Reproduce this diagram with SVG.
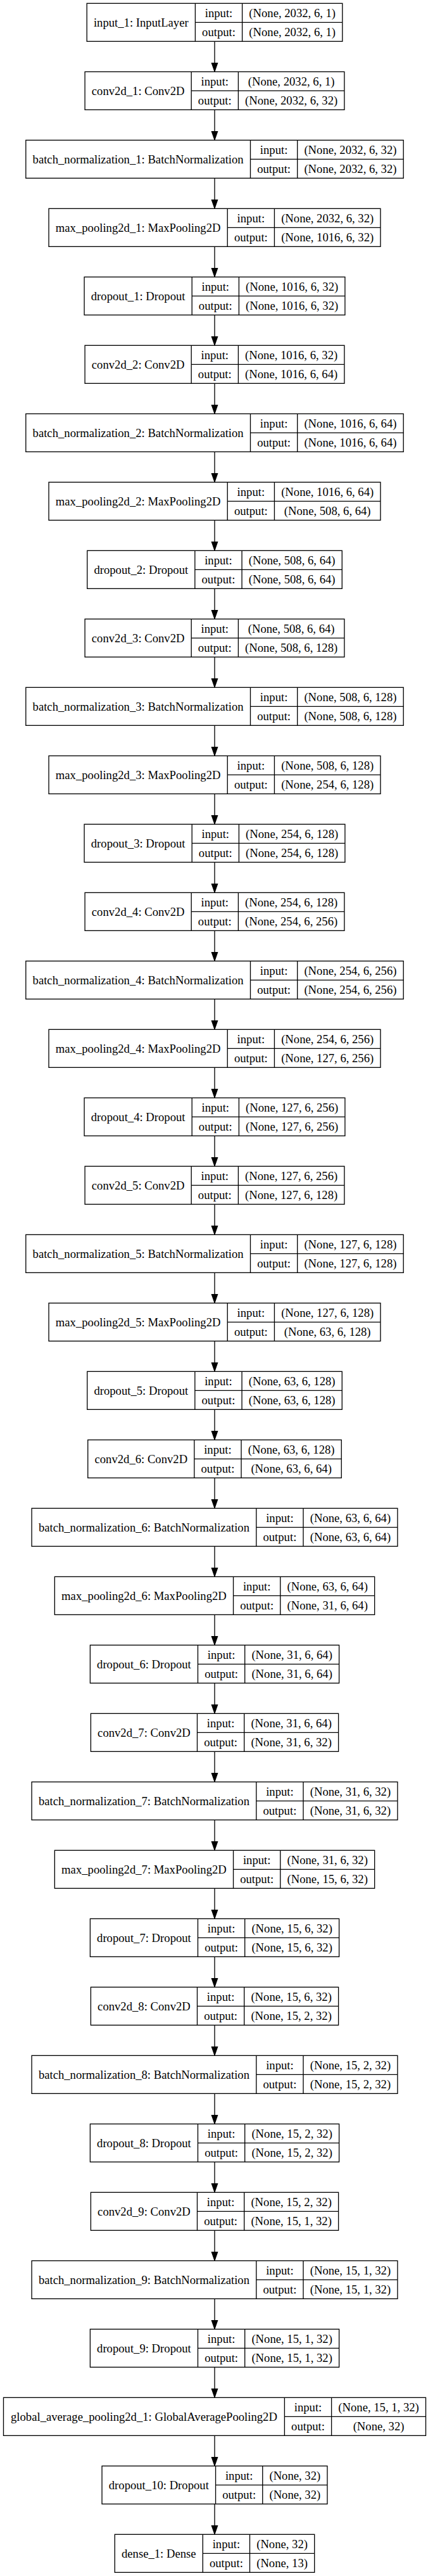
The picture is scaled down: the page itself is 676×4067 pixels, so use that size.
<svg xmlns="http://www.w3.org/2000/svg" width="676" height="4067" viewBox="0 0 676 4067">
<style>
.n rect{fill:#fff;stroke:#000;stroke-width:1.33}
.n path{fill:none;stroke:#000;stroke-width:1.33}
text{font-family:"Liberation Serif","Times New Roman",serif;font-size:18.67px;fill:#000;text-anchor:middle}
.e line{stroke:#000;stroke-width:1.33;marker-end:url(#ah)}
</style>
<defs>
<marker id="ah" markerUnits="userSpaceOnUse" markerWidth="16" markerHeight="12" viewBox="0 0 16 12" refX="14" refY="6" orient="auto">
<path d="M0.7,1.33 L14,6 L0.7,10.67 Z" fill="#000" stroke="#000" stroke-width="1.33"/>
</marker>
</defs>
<rect width="676" height="4067" fill="#fff"/>
<g id="edges" class="e">
<line x1="339" y1="65.33" x2="339" y2="112.67"/>
<line x1="339" y1="173.33" x2="339" y2="220.67"/>
<line x1="339" y1="281.33" x2="339" y2="328.67"/>
<line x1="339" y1="389.33" x2="339" y2="436.67"/>
<line x1="339" y1="497.33" x2="339" y2="544.67"/>
<line x1="339" y1="605.33" x2="339" y2="652.67"/>
<line x1="339" y1="713.33" x2="339" y2="760.67"/>
<line x1="339" y1="821.33" x2="339" y2="868.67"/>
<line x1="339" y1="929.33" x2="339" y2="976.67"/>
<line x1="339" y1="1037.33" x2="339" y2="1084.67"/>
<line x1="339" y1="1145.33" x2="339" y2="1192.67"/>
<line x1="339" y1="1253.33" x2="339" y2="1300.67"/>
<line x1="339" y1="1361.33" x2="339" y2="1408.67"/>
<line x1="339" y1="1469.33" x2="339" y2="1516.67"/>
<line x1="339" y1="1577.33" x2="339" y2="1624.67"/>
<line x1="339" y1="1685.33" x2="339" y2="1732.67"/>
<line x1="339" y1="1793.33" x2="339" y2="1840.67"/>
<line x1="339" y1="1901.33" x2="339" y2="1948.67"/>
<line x1="339" y1="2009.33" x2="339" y2="2056.67"/>
<line x1="339" y1="2117.33" x2="339" y2="2164.67"/>
<line x1="339" y1="2225.33" x2="339" y2="2272.67"/>
<line x1="339" y1="2333.33" x2="339" y2="2380.67"/>
<line x1="339" y1="2441.33" x2="339" y2="2488.67"/>
<line x1="339" y1="2549.33" x2="339" y2="2596.67"/>
<line x1="339" y1="2657.33" x2="339" y2="2704.67"/>
<line x1="339" y1="2765.33" x2="339" y2="2812.67"/>
<line x1="339" y1="2873.33" x2="339" y2="2920.67"/>
<line x1="339" y1="2981.33" x2="339" y2="3028.67"/>
<line x1="339" y1="3089.33" x2="339" y2="3136.67"/>
<line x1="339" y1="3197.33" x2="339" y2="3244.67"/>
<line x1="339" y1="3305.33" x2="339" y2="3352.67"/>
<line x1="339" y1="3413.33" x2="339" y2="3460.67"/>
<line x1="339" y1="3521.33" x2="339" y2="3568.67"/>
<line x1="339" y1="3629.33" x2="339" y2="3676.67"/>
<line x1="339" y1="3737.33" x2="339" y2="3784.67"/>
<line x1="339" y1="3845.33" x2="339" y2="3892.67"/>
<line x1="339" y1="3953.33" x2="339" y2="4000.67"/>
</g>

<g id="input_1" class="n" transform="translate(0,5.33)">
<rect x="137.2" y="0" width="403.6" height="60"/><path d="M308.4 0V60M382.6 0V60M308.4 30H540.8"/>
<text x="222.8" y="36.5">input_1: InputLayer</text><text x="345.5" y="21.5">input:</text><text x="345.5" y="51.5">output:</text>
<text x="461.7" y="21.5">(None, 2032, 6, 1)</text><text x="461.7" y="51.5">(None, 2032, 6, 1)</text>
</g>
<g id="conv2d_1" class="n" transform="translate(0,113.33)">
<rect x="134.1" y="0" width="409.8" height="60"/><path d="M302.2 0V60M376.4 0V60M302.2 30H543.9"/>
<text x="218.15" y="36.5">conv2d_1: Conv2D</text><text x="339.3" y="21.5">input:</text><text x="339.3" y="51.5">output:</text>
<text x="460.15" y="21.5">(None, 2032, 6, 1)</text><text x="460.15" y="51.5">(None, 2032, 6, 32)</text>
</g>
<g id="batch_normalization_1" class="n" transform="translate(0,221.33)">
<rect x="40.8" y="0" width="596.4" height="60"/><path d="M395.5 0V60M469.7 0V60M395.5 30H637.2"/>
<text x="218.15" y="36.5">batch_normalization_1: BatchNormalization</text><text x="432.6" y="21.5">input:</text><text x="432.6" y="51.5">output:</text>
<text x="553.45" y="21.5">(None, 2032, 6, 32)</text><text x="553.45" y="51.5">(None, 2032, 6, 32)</text>
</g>
<g id="max_pooling2d_1" class="n" transform="translate(0,329.33)">
<rect x="77.05" y="0" width="523.9" height="60"/><path d="M359.25 0V60M433.45 0V60M359.25 30H600.95"/>
<text x="218.15" y="36.5">max_pooling2d_1: MaxPooling2D</text><text x="396.35" y="21.5">input:</text><text x="396.35" y="51.5">output:</text>
<text x="517.2" y="21.5">(None, 2032, 6, 32)</text><text x="517.2" y="51.5">(None, 1016, 6, 32)</text>
</g>
<g id="dropout_1" class="n" transform="translate(0,437.33)">
<rect x="133.1" y="0" width="411.8" height="60"/><path d="M303.2 0V60M377.4 0V60M303.2 30H544.9"/>
<text x="218.15" y="36.5">dropout_1: Dropout</text><text x="340.3" y="21.5">input:</text><text x="340.3" y="51.5">output:</text>
<text x="461.15" y="21.5">(None, 1016, 6, 32)</text><text x="461.15" y="51.5">(None, 1016, 6, 32)</text>
</g>
<g id="conv2d_2" class="n" transform="translate(0,545.33)">
<rect x="134.1" y="0" width="409.8" height="60"/><path d="M302.2 0V60M376.4 0V60M302.2 30H543.9"/>
<text x="218.15" y="36.5">conv2d_2: Conv2D</text><text x="339.3" y="21.5">input:</text><text x="339.3" y="51.5">output:</text>
<text x="460.15" y="21.5">(None, 1016, 6, 32)</text><text x="460.15" y="51.5">(None, 1016, 6, 64)</text>
</g>
<g id="batch_normalization_2" class="n" transform="translate(0,653.33)">
<rect x="40.8" y="0" width="596.4" height="60"/><path d="M395.5 0V60M469.7 0V60M395.5 30H637.2"/>
<text x="218.15" y="36.5">batch_normalization_2: BatchNormalization</text><text x="432.6" y="21.5">input:</text><text x="432.6" y="51.5">output:</text>
<text x="553.45" y="21.5">(None, 1016, 6, 64)</text><text x="553.45" y="51.5">(None, 1016, 6, 64)</text>
</g>
<g id="max_pooling2d_2" class="n" transform="translate(0,761.33)">
<rect x="77.05" y="0" width="523.9" height="60"/><path d="M359.25 0V60M433.45 0V60M359.25 30H600.95"/>
<text x="218.15" y="36.5">max_pooling2d_2: MaxPooling2D</text><text x="396.35" y="21.5">input:</text><text x="396.35" y="51.5">output:</text>
<text x="517.2" y="21.5">(None, 1016, 6, 64)</text><text x="517.2" y="51.5">(None, 508, 6, 64)</text>
</g>
<g id="dropout_2" class="n" transform="translate(0,869.33)">
<rect x="137.75" y="0" width="402.5" height="60"/><path d="M307.85 0V60M382.05 0V60M307.85 30H540.25"/>
<text x="222.8" y="36.5">dropout_2: Dropout</text><text x="344.95" y="21.5">input:</text><text x="344.95" y="51.5">output:</text>
<text x="461.15" y="21.5">(None, 508, 6, 64)</text><text x="461.15" y="51.5">(None, 508, 6, 64)</text>
</g>
<g id="conv2d_3" class="n" transform="translate(0,977.33)">
<rect x="134.1" y="0" width="409.8" height="60"/><path d="M302.2 0V60M376.4 0V60M302.2 30H543.9"/>
<text x="218.15" y="36.5">conv2d_3: Conv2D</text><text x="339.3" y="21.5">input:</text><text x="339.3" y="51.5">output:</text>
<text x="460.15" y="21.5">(None, 508, 6, 64)</text><text x="460.15" y="51.5">(None, 508, 6, 128)</text>
</g>
<g id="batch_normalization_3" class="n" transform="translate(0,1085.33)">
<rect x="40.8" y="0" width="596.4" height="60"/><path d="M395.5 0V60M469.7 0V60M395.5 30H637.2"/>
<text x="218.15" y="36.5">batch_normalization_3: BatchNormalization</text><text x="432.6" y="21.5">input:</text><text x="432.6" y="51.5">output:</text>
<text x="553.45" y="21.5">(None, 508, 6, 128)</text><text x="553.45" y="51.5">(None, 508, 6, 128)</text>
</g>
<g id="max_pooling2d_3" class="n" transform="translate(0,1193.33)">
<rect x="77.05" y="0" width="523.9" height="60"/><path d="M359.25 0V60M433.45 0V60M359.25 30H600.95"/>
<text x="218.15" y="36.5">max_pooling2d_3: MaxPooling2D</text><text x="396.35" y="21.5">input:</text><text x="396.35" y="51.5">output:</text>
<text x="517.2" y="21.5">(None, 508, 6, 128)</text><text x="517.2" y="51.5">(None, 254, 6, 128)</text>
</g>
<g id="dropout_3" class="n" transform="translate(0,1301.33)">
<rect x="133.1" y="0" width="411.8" height="60"/><path d="M303.2 0V60M377.4 0V60M303.2 30H544.9"/>
<text x="218.15" y="36.5">dropout_3: Dropout</text><text x="340.3" y="21.5">input:</text><text x="340.3" y="51.5">output:</text>
<text x="461.15" y="21.5">(None, 254, 6, 128)</text><text x="461.15" y="51.5">(None, 254, 6, 128)</text>
</g>
<g id="conv2d_4" class="n" transform="translate(0,1409.33)">
<rect x="134.1" y="0" width="409.8" height="60"/><path d="M302.2 0V60M376.4 0V60M302.2 30H543.9"/>
<text x="218.15" y="36.5">conv2d_4: Conv2D</text><text x="339.3" y="21.5">input:</text><text x="339.3" y="51.5">output:</text>
<text x="460.15" y="21.5">(None, 254, 6, 128)</text><text x="460.15" y="51.5">(None, 254, 6, 256)</text>
</g>
<g id="batch_normalization_4" class="n" transform="translate(0,1517.33)">
<rect x="40.8" y="0" width="596.4" height="60"/><path d="M395.5 0V60M469.7 0V60M395.5 30H637.2"/>
<text x="218.15" y="36.5">batch_normalization_4: BatchNormalization</text><text x="432.6" y="21.5">input:</text><text x="432.6" y="51.5">output:</text>
<text x="553.45" y="21.5">(None, 254, 6, 256)</text><text x="553.45" y="51.5">(None, 254, 6, 256)</text>
</g>
<g id="max_pooling2d_4" class="n" transform="translate(0,1625.33)">
<rect x="77.05" y="0" width="523.9" height="60"/><path d="M359.25 0V60M433.45 0V60M359.25 30H600.95"/>
<text x="218.15" y="36.5">max_pooling2d_4: MaxPooling2D</text><text x="396.35" y="21.5">input:</text><text x="396.35" y="51.5">output:</text>
<text x="517.2" y="21.5">(None, 254, 6, 256)</text><text x="517.2" y="51.5">(None, 127, 6, 256)</text>
</g>
<g id="dropout_4" class="n" transform="translate(0,1733.33)">
<rect x="133.1" y="0" width="411.8" height="60"/><path d="M303.2 0V60M377.4 0V60M303.2 30H544.9"/>
<text x="218.15" y="36.5">dropout_4: Dropout</text><text x="340.3" y="21.5">input:</text><text x="340.3" y="51.5">output:</text>
<text x="461.15" y="21.5">(None, 127, 6, 256)</text><text x="461.15" y="51.5">(None, 127, 6, 256)</text>
</g>
<g id="conv2d_5" class="n" transform="translate(0,1841.33)">
<rect x="134.1" y="0" width="409.8" height="60"/><path d="M302.2 0V60M376.4 0V60M302.2 30H543.9"/>
<text x="218.15" y="36.5">conv2d_5: Conv2D</text><text x="339.3" y="21.5">input:</text><text x="339.3" y="51.5">output:</text>
<text x="460.15" y="21.5">(None, 127, 6, 256)</text><text x="460.15" y="51.5">(None, 127, 6, 128)</text>
</g>
<g id="batch_normalization_5" class="n" transform="translate(0,1949.33)">
<rect x="40.8" y="0" width="596.4" height="60"/><path d="M395.5 0V60M469.7 0V60M395.5 30H637.2"/>
<text x="218.15" y="36.5">batch_normalization_5: BatchNormalization</text><text x="432.6" y="21.5">input:</text><text x="432.6" y="51.5">output:</text>
<text x="553.45" y="21.5">(None, 127, 6, 128)</text><text x="553.45" y="51.5">(None, 127, 6, 128)</text>
</g>
<g id="max_pooling2d_5" class="n" transform="translate(0,2057.33)">
<rect x="77.05" y="0" width="523.9" height="60"/><path d="M359.25 0V60M433.45 0V60M359.25 30H600.95"/>
<text x="218.15" y="36.5">max_pooling2d_5: MaxPooling2D</text><text x="396.35" y="21.5">input:</text><text x="396.35" y="51.5">output:</text>
<text x="517.2" y="21.5">(None, 127, 6, 128)</text><text x="517.2" y="51.5">(None, 63, 6, 128)</text>
</g>
<g id="dropout_5" class="n" transform="translate(0,2165.33)">
<rect x="137.75" y="0" width="402.5" height="60"/><path d="M307.85 0V60M382.05 0V60M307.85 30H540.25"/>
<text x="222.8" y="36.5">dropout_5: Dropout</text><text x="344.95" y="21.5">input:</text><text x="344.95" y="51.5">output:</text>
<text x="461.15" y="21.5">(None, 63, 6, 128)</text><text x="461.15" y="51.5">(None, 63, 6, 128)</text>
</g>
<g id="conv2d_6" class="n" transform="translate(0,2273.33)">
<rect x="138.75" y="0" width="400.5" height="60"/><path d="M306.85 0V60M381.05 0V60M306.85 30H539.25"/>
<text x="222.8" y="36.5">conv2d_6: Conv2D</text><text x="343.95" y="21.5">input:</text><text x="343.95" y="51.5">output:</text>
<text x="460.15" y="21.5">(None, 63, 6, 128)</text><text x="460.15" y="51.5">(None, 63, 6, 64)</text>
</g>
<g id="batch_normalization_6" class="n" transform="translate(0,2381.33)">
<rect x="50.1" y="0" width="577.8" height="60"/><path d="M404.8 0V60M479 0V60M404.8 30H627.9"/>
<text x="227.45" y="36.5">batch_normalization_6: BatchNormalization</text><text x="441.9" y="21.5">input:</text><text x="441.9" y="51.5">output:</text>
<text x="553.45" y="21.5">(None, 63, 6, 64)</text><text x="553.45" y="51.5">(None, 63, 6, 64)</text>
</g>
<g id="max_pooling2d_6" class="n" transform="translate(0,2489.33)">
<rect x="86.35" y="0" width="505.3" height="60"/><path d="M368.55 0V60M442.75 0V60M368.55 30H591.65"/>
<text x="227.45" y="36.5">max_pooling2d_6: MaxPooling2D</text><text x="405.65" y="21.5">input:</text><text x="405.65" y="51.5">output:</text>
<text x="517.2" y="21.5">(None, 63, 6, 64)</text><text x="517.2" y="51.5">(None, 31, 6, 64)</text>
</g>
<g id="dropout_6" class="n" transform="translate(0,2597.33)">
<rect x="142.4" y="0" width="393.2" height="60"/><path d="M312.5 0V60M386.7 0V60M312.5 30H535.6"/>
<text x="227.45" y="36.5">dropout_6: Dropout</text><text x="349.6" y="21.5">input:</text><text x="349.6" y="51.5">output:</text>
<text x="461.15" y="21.5">(None, 31, 6, 64)</text><text x="461.15" y="51.5">(None, 31, 6, 64)</text>
</g>
<g id="conv2d_7" class="n" transform="translate(0,2705.33)">
<rect x="143.4" y="0" width="391.2" height="60"/><path d="M311.5 0V60M385.7 0V60M311.5 30H534.6"/>
<text x="227.45" y="36.5">conv2d_7: Conv2D</text><text x="348.6" y="21.5">input:</text><text x="348.6" y="51.5">output:</text>
<text x="460.15" y="21.5">(None, 31, 6, 64)</text><text x="460.15" y="51.5">(None, 31, 6, 32)</text>
</g>
<g id="batch_normalization_7" class="n" transform="translate(0,2813.33)">
<rect x="50.1" y="0" width="577.8" height="60"/><path d="M404.8 0V60M479 0V60M404.8 30H627.9"/>
<text x="227.45" y="36.5">batch_normalization_7: BatchNormalization</text><text x="441.9" y="21.5">input:</text><text x="441.9" y="51.5">output:</text>
<text x="553.45" y="21.5">(None, 31, 6, 32)</text><text x="553.45" y="51.5">(None, 31, 6, 32)</text>
</g>
<g id="max_pooling2d_7" class="n" transform="translate(0,2921.33)">
<rect x="86.35" y="0" width="505.3" height="60"/><path d="M368.55 0V60M442.75 0V60M368.55 30H591.65"/>
<text x="227.45" y="36.5">max_pooling2d_7: MaxPooling2D</text><text x="405.65" y="21.5">input:</text><text x="405.65" y="51.5">output:</text>
<text x="517.2" y="21.5">(None, 31, 6, 32)</text><text x="517.2" y="51.5">(None, 15, 6, 32)</text>
</g>
<g id="dropout_7" class="n" transform="translate(0,3029.33)">
<rect x="142.4" y="0" width="393.2" height="60"/><path d="M312.5 0V60M386.7 0V60M312.5 30H535.6"/>
<text x="227.45" y="36.5">dropout_7: Dropout</text><text x="349.6" y="21.5">input:</text><text x="349.6" y="51.5">output:</text>
<text x="461.15" y="21.5">(None, 15, 6, 32)</text><text x="461.15" y="51.5">(None, 15, 6, 32)</text>
</g>
<g id="conv2d_8" class="n" transform="translate(0,3137.33)">
<rect x="143.4" y="0" width="391.2" height="60"/><path d="M311.5 0V60M385.7 0V60M311.5 30H534.6"/>
<text x="227.45" y="36.5">conv2d_8: Conv2D</text><text x="348.6" y="21.5">input:</text><text x="348.6" y="51.5">output:</text>
<text x="460.15" y="21.5">(None, 15, 6, 32)</text><text x="460.15" y="51.5">(None, 15, 2, 32)</text>
</g>
<g id="batch_normalization_8" class="n" transform="translate(0,3245.33)">
<rect x="50.1" y="0" width="577.8" height="60"/><path d="M404.8 0V60M479 0V60M404.8 30H627.9"/>
<text x="227.45" y="36.5">batch_normalization_8: BatchNormalization</text><text x="441.9" y="21.5">input:</text><text x="441.9" y="51.5">output:</text>
<text x="553.45" y="21.5">(None, 15, 2, 32)</text><text x="553.45" y="51.5">(None, 15, 2, 32)</text>
</g>
<g id="dropout_8" class="n" transform="translate(0,3353.33)">
<rect x="142.4" y="0" width="393.2" height="60"/><path d="M312.5 0V60M386.7 0V60M312.5 30H535.6"/>
<text x="227.45" y="36.5">dropout_8: Dropout</text><text x="349.6" y="21.5">input:</text><text x="349.6" y="51.5">output:</text>
<text x="461.15" y="21.5">(None, 15, 2, 32)</text><text x="461.15" y="51.5">(None, 15, 2, 32)</text>
</g>
<g id="conv2d_9" class="n" transform="translate(0,3461.33)">
<rect x="143.4" y="0" width="391.2" height="60"/><path d="M311.5 0V60M385.7 0V60M311.5 30H534.6"/>
<text x="227.45" y="36.5">conv2d_9: Conv2D</text><text x="348.6" y="21.5">input:</text><text x="348.6" y="51.5">output:</text>
<text x="460.15" y="21.5">(None, 15, 2, 32)</text><text x="460.15" y="51.5">(None, 15, 1, 32)</text>
</g>
<g id="batch_normalization_9" class="n" transform="translate(0,3569.33)">
<rect x="50.1" y="0" width="577.8" height="60"/><path d="M404.8 0V60M479 0V60M404.8 30H627.9"/>
<text x="227.45" y="36.5">batch_normalization_9: BatchNormalization</text><text x="441.9" y="21.5">input:</text><text x="441.9" y="51.5">output:</text>
<text x="553.45" y="21.5">(None, 15, 1, 32)</text><text x="553.45" y="51.5">(None, 15, 1, 32)</text>
</g>
<g id="dropout_9" class="n" transform="translate(0,3677.33)">
<rect x="142.4" y="0" width="393.2" height="60"/><path d="M312.5 0V60M386.7 0V60M312.5 30H535.6"/>
<text x="227.45" y="36.5">dropout_9: Dropout</text><text x="349.6" y="21.5">input:</text><text x="349.6" y="51.5">output:</text>
<text x="461.15" y="21.5">(None, 15, 1, 32)</text><text x="461.15" y="51.5">(None, 15, 1, 32)</text>
</g>
<g id="global_average_pooling2d_1" class="n" transform="translate(0,3785.33)">
<rect x="5.5" y="0" width="667" height="60"/><path d="M449.4 0V60M523.6 0V60M449.4 30H672.5"/>
<text x="227.45" y="36.5">global_average_pooling2d_1: GlobalAveragePooling2D</text><text x="486.5" y="21.5">input:</text><text x="486.5" y="51.5">output:</text>
<text x="598.05" y="21.5">(None, 15, 1, 32)</text><text x="598.05" y="51.5">(None, 32)</text>
</g>
<g id="dropout_10" class="n" transform="translate(0,3893.33)">
<rect x="161.05" y="0" width="355.9" height="60"/><path d="M340.55 0V60M414.75 0V60M340.55 30H516.95"/>
<text x="250.8" y="36.5">dropout_10: Dropout</text><text x="377.65" y="21.5">input:</text><text x="377.65" y="51.5">output:</text>
<text x="465.85" y="21.5">(None, 32)</text><text x="465.85" y="51.5">(None, 32)</text>
</g>
<g id="dense_1" class="n" transform="translate(0,4001.33)">
<rect x="181.3" y="0" width="315.4" height="60"/><path d="M320.3 0V60M394.5 0V60M320.3 30H496.7"/>
<text x="250.8" y="36.5">dense_1: Dense</text><text x="357.4" y="21.5">input:</text><text x="357.4" y="51.5">output:</text>
<text x="445.6" y="21.5">(None, 32)</text><text x="445.6" y="51.5">(None, 13)</text>
</g>
</svg>
